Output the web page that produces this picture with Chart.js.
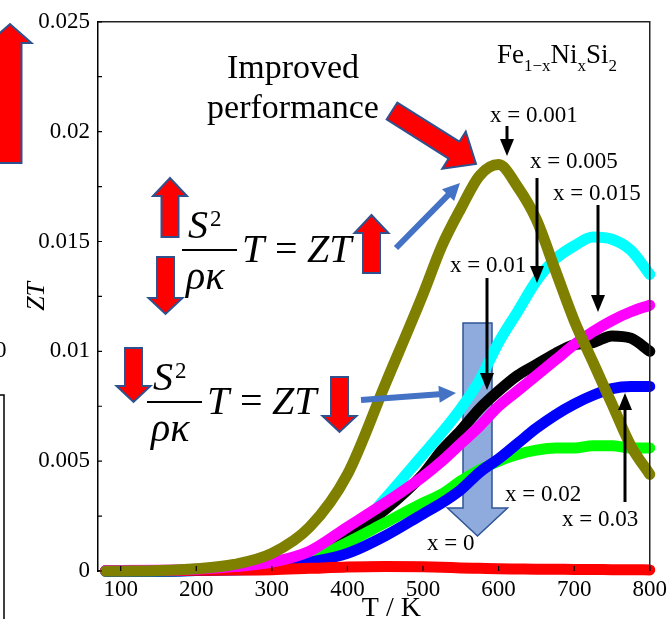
<!DOCTYPE html>
<html>
<head>
<meta charset="utf-8">
<script src="https://cdn.jsdelivr.net/npm/chart.js@4"></script>
<style>
    body { margin: 0; background: #fff; }
    canvas { display: block; }
</style>
</head>
<body>
<canvas id="ztChart" width="672" height="619"></canvas>
<script>
// temperature (K) shared by all samples
const temps = [80, 150, 200, 250, 300, 350, 400, 450, 500, 525, 550, 575, 600, 625, 650, 675, 700, 725, 750, 775, 800];

// ZT of Fe1-xNixSi2 for each x
const zt000 = [0.00002, 0.00002, 0.00003, 0.00004, 0.00006, 0.00012, 0.00018, 0.0002, 0.00019, 0.00017, 0.00014, 0.00012, 0.0001, 0.00009, 0.00008, 0.00008, 0.00007, 0.00007, 0.00006, 0.00006, 0.00005];
const zt001 = [0, 0.00002, 0.0001, 0.0003, 0.0008, 0.0020, 0.0044, 0.0085, 0.0126, 0.0148, 0.0165, 0.0180, 0.0185, 0.0175, 0.0160, 0.0137, 0.0114, 0.0095, 0.0076, 0.0057, 0.0044];
const zt005 = [0, 0, 0.00002, 0.0001, 0.0002, 0.0006, 0.0014, 0.0033, 0.0053, 0.0063, 0.0074, 0.0087, 0.0104, 0.0118, 0.0132, 0.0142, 0.0148, 0.0152, 0.0151, 0.0146, 0.0135];
const zt010 = [0, 0, 0.00004, 0.0001, 0.0003, 0.0008, 0.0016, 0.0028, 0.0044, 0.0055, 0.0064, 0.0074, 0.0082, 0.0089, 0.0094, 0.0099, 0.0103, 0.0104, 0.0107, 0.0106, 0.0100];
const zt015 = [0.00002, 0.00003, 0.00008, 0.0002, 0.0004, 0.0009, 0.0020, 0.0031, 0.0043, 0.0050, 0.0058, 0.0066, 0.0075, 0.0082, 0.0089, 0.0096, 0.0103, 0.0109, 0.0114, 0.0118, 0.0121];
const zt020 = [0, 0, 0.00003, 0.0001, 0.0002, 0.0005, 0.0013, 0.0022, 0.0031, 0.0035, 0.0041, 0.0046, 0.0050, 0.0053, 0.0055, 0.0056, 0.0056, 0.0057, 0.0057, 0.0056, 0.0056];
const zt030 = [0, 0, 0.00002, 0.00005, 0.0001, 0.0004, 0.0008, 0.0016, 0.0026, 0.0031, 0.0037, 0.0045, 0.0051, 0.0058, 0.0065, 0.0071, 0.0076, 0.0080, 0.0083, 0.0084, 0.0084];

// axis ticks
const xTicks = [100, 200, 300, 400, 500, 600, 700, 800];
const yTicks = [0, 0.005, 0.01, 0.015, 0.02, 0.025];
const yMinorTicks = [0.0025, 0.0075, 0.0125, 0.0175, 0.0225];

const SERIF = '"Liberation Serif", "Times New Roman", serif';
const RED = '#ff0000';
const OUTLINE = '#2f528f';
const ARROW_BLUE = '#4472c4';

function points(ys) {
    return temps.map(function(t, i) { return { x: t, y: ys[i] }; });
}

function series(label, ys, color) {
    return { label: label, data: points(ys), borderColor: color, backgroundColor: color, clip: 7 };
}

// polygon arrow from (x1,y1) to tip (x2,y2)
function blockArrow(ctx, x1, y1, x2, y2, shaftW, headW, headL, fill, stroke, lw) {
    const len = Math.hypot(x2 - x1, y2 - y1);
    const ux = (x2 - x1) / len, uy = (y2 - y1) / len;
    const nx = -uy, ny = ux;
    const bx = x2 - ux * headL, by = y2 - uy * headL;
    const s = shaftW / 2, h = headW / 2;
    ctx.beginPath();
    ctx.moveTo(x1 + nx * s, y1 + ny * s);
    ctx.lineTo(bx + nx * s, by + ny * s);
    ctx.lineTo(bx + nx * h, by + ny * h);
    ctx.lineTo(x2, y2);
    ctx.lineTo(bx - nx * h, by - ny * h);
    ctx.lineTo(bx - nx * s, by - ny * s);
    ctx.lineTo(x1 - nx * s, y1 - ny * s);
    ctx.closePath();
    ctx.fillStyle = fill;
    ctx.fill();
    if (stroke) {
        ctx.strokeStyle = stroke;
        ctx.lineWidth = lw;
        ctx.lineJoin = 'miter';
        ctx.stroke();
    }
}

// thin black vertical arrow
function lineArrow(ctx, x, y1, y2) {
    const dir = y2 > y1 ? 1 : -1;
    ctx.strokeStyle = '#000';
    ctx.lineWidth = 3;
    ctx.beginPath();
    ctx.moveTo(x, y1);
    ctx.lineTo(x, y2 - dir * 15);
    ctx.stroke();
    ctx.fillStyle = '#000';
    ctx.beginPath();
    ctx.moveTo(x - 7, y2 - dir * 17);
    ctx.lineTo(x + 7, y2 - dir * 17);
    ctx.lineTo(x, y2);
    ctx.closePath();
    ctx.fill();
}

function redUp(ctx, cx, yBottom, yTip) {
    blockArrow(ctx, cx, yBottom, cx, yTip, 17, 34, 18, RED, OUTLINE, 2);
}

function redDown(ctx, cx, yTop, yTip) {
    blockArrow(ctx, cx, yTop, cx, yTip, 17, 34, 16, RED, OUTLINE, 2);
}

// S^2 / (rho kappa) T = ZT, bx/by is the left end of the fraction bar
function formula(ctx, bx, by) {
    ctx.fillStyle = '#000';
    ctx.textAlign = 'left';
    ctx.textBaseline = 'alphabetic';
    ctx.font = 'italic 40px ' + SERIF;
    ctx.fillText('S', bx + 6, by - 12);
    ctx.fillText('ρκ', bx + 4, by + 39);
    ctx.fillText('T', bx + 60, by + 12);
    ctx.fillText('ZT', bx + 125, by + 12);
    ctx.font = '40px ' + SERIF;
    ctx.fillText('=', bx + 93, by + 12);
    ctx.font = '23px ' + SERIF;
    ctx.fillText('2', bx + 28, by - 24);
    ctx.fillRect(bx, by - 1, 55, 2);
}

function label(ctx, text, x, y) {
    ctx.font = '23px ' + SERIF;
    ctx.fillStyle = '#000';
    ctx.textAlign = 'left';
    ctx.textBaseline = 'alphabetic';
    ctx.fillText(text, x, y);
}

const annotations = {
    id: 'annotations',
    beforeDatasetsDraw: function(chart) {
        const ctx = chart.ctx;
        ctx.save();
        // big pale arrow: x = 0.001 -> x = 0
        blockArrow(ctx, 477.5, 323, 477.5, 536, 29, 60, 28, '#8faadc', '#2f5597', 1.5);
        ctx.restore();
    },
    afterDraw: function(chart) {
        const ctx = chart.ctx;
        const area = chart.chartArea;
        const xs = chart.scales.x, ys = chart.scales.y;
        ctx.save();

        // frame on top and right
        ctx.strokeStyle = '#222';
        ctx.lineWidth = 1.5;
        ctx.beginPath();
        ctx.moveTo(area.left, area.top);
        ctx.lineTo(area.right, area.top);
        ctx.lineTo(area.right, area.bottom);
        ctx.stroke();

        // inward tick marks
        ctx.strokeStyle = '#000';
        ctx.lineWidth = 1.2;
        ctx.beginPath();
        xTicks.forEach(function(v) {
            const p = xs.getPixelForValue(v);
            ctx.moveTo(p, area.bottom);
            ctx.lineTo(p, area.bottom - 5);
        });
        yTicks.concat(yMinorTicks).forEach(function(v) {
            const p = ys.getPixelForValue(v);
            ctx.moveTo(area.left, p);
            ctx.lineTo(area.left + 4, p);
        });
        ctx.stroke();

        // composition
        ctx.fillStyle = '#000';
        ctx.textBaseline = 'alphabetic';
        ctx.textAlign = 'left';
        let x = 497;
        const runs = [['Fe', 27, 63], ['1−x', 17, 71], ['Ni', 27, 63], ['x', 17, 71], ['Si', 27, 63], ['2', 17, 71]];
        runs.forEach(function(r) {
            ctx.font = r[1] + 'px ' + SERIF;
            ctx.fillText(r[0], x, r[2]);
            x += ctx.measureText(r[0]).width;
        });

        // improved performance
        ctx.font = '34px ' + SERIF;
        ctx.textAlign = 'center';
        ctx.fillText('Improved', 293, 78);
        ctx.fillText('performance', 293, 118);
        blockArrow(ctx, 392, 111, 476, 164, 20, 44, 26, RED, OUTLINE, 2);

        // sample labels with arrows
        label(ctx, 'x = 0.001', 490, 122);
        lineArrow(ctx, 507, 126, 156);
        label(ctx, 'x = 0.005', 530, 168);
        lineArrow(ctx, 537, 178, 283);
        label(ctx, 'x = 0.015', 553, 200);
        lineArrow(ctx, 598, 205, 312);
        label(ctx, 'x = 0.01', 450, 272);
        lineArrow(ctx, 487, 278, 390);
        label(ctx, 'x = 0.02', 505, 501);
        label(ctx, 'x = 0.03', 562, 526);
        lineArrow(ctx, 625, 502, 393);
        label(ctx, 'x = 0', 427, 550);

        // formulas
        formula(ctx, 182, 250);
        redUp(ctx, 170, 237, 178);
        redDown(ctx, 165.5, 257, 314);
        redUp(ctx, 371.5, 273, 215);
        blockArrow(ctx, 396, 248, 460, 183, 6, 17, 17, ARROW_BLUE, null, 0);

        formula(ctx, 147, 402);
        redDown(ctx, 133.5, 348, 402);
        redDown(ctx, 339.5, 377, 432);
        blockArrow(ctx, 361, 400, 456, 393, 6, 17, 17, ARROW_BLUE, null, 0);

        // pieces of the neighbouring panel on the left
        blockArrow(ctx, 10, 163, 10, 24, 23, 43, 19, RED, OUTLINE, 2);
        ctx.font = '23px ' + SERIF;
        ctx.textAlign = 'left';
        ctx.fillStyle = '#000';
        ctx.fillText('0', -5, 357);
        ctx.strokeStyle = '#000';
        ctx.lineWidth = 1.5;
        ctx.beginPath();
        ctx.moveTo(0, 395);
        ctx.lineTo(4, 395);
        ctx.lineTo(4, 619);
        ctx.stroke();

        ctx.restore();
    }
};

Chart.defaults.font.family = SERIF;
Chart.defaults.color = '#000';

new Chart(document.getElementById('ztChart'), {
    type: 'line',
    data: {
        // first one is drawn on top
        datasets: [
            series('x = 0.001', zt001, '#808000'),
            series('x = 0.015', zt015, '#ff00ff'),
            series('x = 0', zt000, '#ff0000'),
            series('x = 0.03', zt030, '#0000ff'),
            series('x = 0.02', zt020, '#00ff00'),
            series('x = 0.01', zt010, '#000000'),
            series('x = 0.005', zt005, '#00ffff')
        ]
    },
    options: {
        responsive: false,
        animation: false,
        layout: { padding: { top: 16, right: 20, left: 0, bottom: 0 } },
        elements: {
            point: { radius: 0 },
            line: { borderWidth: 11, borderCapStyle: 'round', borderJoinStyle: 'round', tension: 0.4, cubicInterpolationMode: 'monotone' }
        },
        plugins: {
            legend: { display: false },
            tooltip: { enabled: false }
        },
        scales: {
            x: {
                type: 'linear',
                min: 70,
                max: 800,
                afterBuildTicks: function(scale) { scale.ticks = xTicks.map(function(v) { return { value: v }; }); },
                afterFit: function(scale) { scale.height = 48; },
                grid: { display: false, drawTicks: false },
                border: { color: '#000', width: 1.5 },
                ticks: { padding: 5, autoSkip: false, maxRotation: 0, font: { size: 23 } },
                title: { display: true, text: '\u2003 T / K', font: { size: 28, lineHeight: 1 }, padding: { top: 0, bottom: -4 } }
            },
            y: {
                min: 0,
                max: 0.025,
                afterBuildTicks: function(scale) { scale.ticks = yTicks.map(function(v) { return { value: v }; }); },
                afterFit: function(scale) { scale.width = 98; },
                grid: { display: false, drawTicks: false },
                border: { color: '#000', width: 1.5 },
                ticks: {
                    padding: 8,
                    font: { size: 23 },
                    callback: function(v) { return String(Number(v.toFixed(4))); }
                },
                title: { display: true, text: 'ZT', font: { size: 26, style: 'italic', lineHeight: 1 }, padding: { top: 24, bottom: 0 } }
            }
        }
    },
    plugins: [annotations]
});
</script>
</body>
</html>
